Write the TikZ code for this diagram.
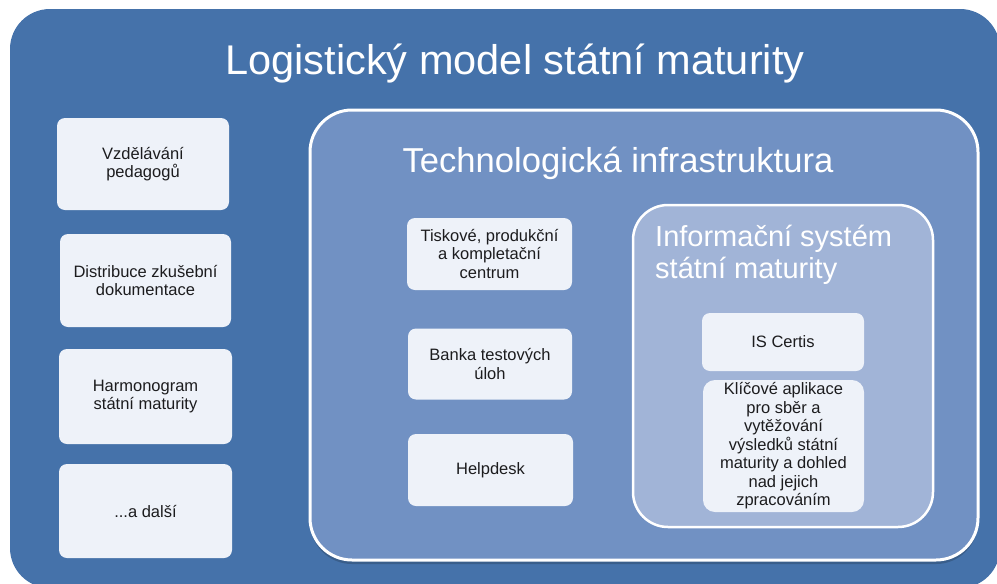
\documentclass[tikz,border=0pt]{standalone}
\usepackage{fontspec}
\setmainfont{Liberation Sans}
\definecolor{outerblue}{RGB}{69,114,170}
\definecolor{techblue}{RGB}{113,145,195}
\definecolor{infoblue}{RGB}{161,180,215}
\definecolor{boxfill}{RGB}{238,242,249}
\definecolor{boxtext}{RGB}{28,28,30}
\begin{document}
\begin{tikzpicture}[x=1pt,y=-1pt,
  smallbox/.style={fill=boxfill, rounded corners=8pt, draw=none, align=center,
    text=boxtext, font=\fontsize{16.5}{18.5}\selectfont, inner sep=2pt},
  bigtitle/.style={text=white, anchor=base, inner sep=0pt}
]
\useasboundingbox (0,0) rectangle (997,584);
\clip (0,0) rectangle (997,584);
% outer panel
\fill[outerblue, rounded corners=40pt] (10,9) rectangle (1000,588);
\node[bigtitle, font=\fontsize{41.5}{48}\selectfont] (title) at (515,74) {Logistický model státní maturity};
% technology panel
\fill[black!18!outerblue, rounded corners=42pt] (310,112) rectangle (978,564);
\draw[white, line width=3pt, fill=techblue, rounded corners=42pt] (310,110) rectangle (978,560);
\node[bigtitle, font=\fontsize{34.6}{40}\selectfont] (techtitle) at (618,172) {Technologická infrastruktura};
% info system panel
\draw[white, line width=2.5pt, fill=infoblue, rounded corners=35pt] (633,205) rectangle (933,527);
\node[text=white, anchor=base west, inner sep=0pt, align=left, font=\fontsize{29}{31.5}\selectfont] (infotitle) at (655,278) {Informační systém\\státní maturity};
% left boxes
\node[smallbox, minimum width=172pt, minimum height=92pt] (b1) at (143,164) {Vzdělávání\\pedagogů};
\node[smallbox, minimum width=171pt, minimum height=93pt] (b2) at (145.5,280.5) {Distribuce zkušební\\dokumentace};
\node[smallbox, minimum width=173pt, minimum height=95pt] (b3) at (145.5,396.5) {Harmonogram\\státní maturity};
\node[smallbox, minimum width=173pt, minimum height=94pt] (b4) at (145.5,511) {...a další};
% middle boxes
\node[smallbox, minimum width=165pt, minimum height=72pt] (t1) at (489.5,254) {Tiskové, produkční\\a kompletační\\centrum};
\node[smallbox, minimum width=164pt, minimum height=71pt] (t2) at (490,364) {Banka testových\\úloh};
\node[smallbox, minimum width=165pt, minimum height=72pt] (t3) at (490.5,470) {Helpdesk};
% info boxes
\node[smallbox, minimum width=162pt, minimum height=58pt] (i1) at (783,342) {IS Certis};
\node[smallbox, minimum width=161pt, minimum height=132pt, rounded corners=12pt] (i2) at (783.5,446) {Klíčové aplikace\\pro sběr a\\vytěžování\\výsledků státní\\maturity a dohled\\nad jejich\\zpracováním};
\end{tikzpicture}
\end{document}
